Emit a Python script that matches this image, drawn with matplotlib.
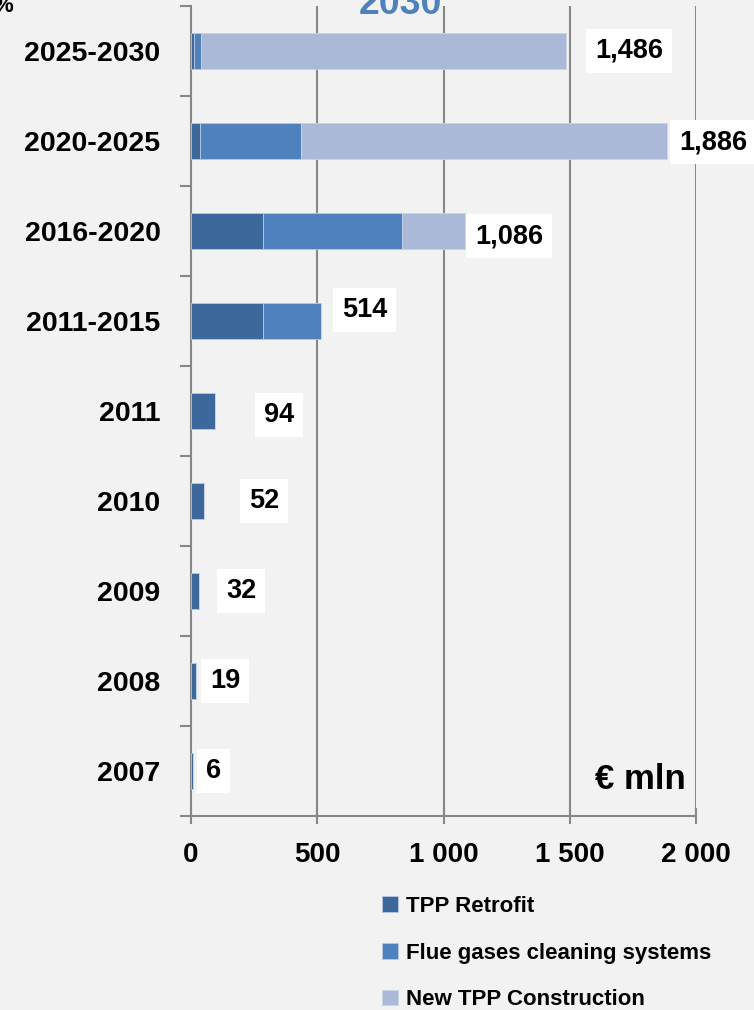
import numpy as np
import matplotlib.pyplot as plt
from matplotlib.ticker import FixedLocator

# data, bottom to top
periods = ['2007', '2008', '2009', '2010', '2011',
           '2011-2015', '2016-2020', '2020-2025', '2025-2030']
retrofit = [6, 19, 32, 52, 94, 285, 285, 35, 10]
flue = [0, 0, 0, 0, 0, 229, 550, 400, 30]
new_tpp = [0, 0, 0, 0, 0, 0, 251, 1451, 1446]
xticks = [0, 500, 1000, 1500, 2000]
xtick_labels = ['0', '500', '1 000', '1 500', '2 000']

# label box offsets (px) from bar end: gap, vertical shift (up +)
lab_dx = [4, 5, 18, 36, 40, 12, 1, 3, 20]
lab_dy = [0, 0, 0, 0, -4, 11, -5, -1, 0]

c_ret = '#3d689c'
c_flue = '#4f81bd'
c_new = '#aab9d7'
bg = '#f2f2f2'
gray = '#878787'
fnt = ['Liberation Sans', 'DejaVu Sans']
plt.rcParams['font.family'] = fnt

fig = plt.figure(figsize=(7.54, 10.10), dpi=100, facecolor=bg)
ax = fig.add_axes([191/754, 1-816/1010, 505/754, 810/1010])
ax.set_facecolor(bg)

y = np.arange(len(periods))
ret = np.array(retrofit)
fl = np.array(flue)
nw = np.array(new_tpp)
h = 0.4
ax.barh(y, ret, height=h, color=c_ret, edgecolor='#b9c8e0', linewidth=0.6, label='TPP Retrofit', zorder=3)
ax.barh(y, fl, left=ret, height=h, color=c_flue, edgecolor='#b9c8e0', linewidth=0.6,
        label='Flue gases cleaning systems', zorder=3)
ax.barh(y, nw, left=ret+fl, height=h, color=c_new, edgecolor='#c9d4e6', linewidth=0.6,
        label='New TPP Construction', zorder=3)

tot = ret + fl + nw
for i, t in enumerate(tot):
    ax.annotate(f'{t:,}', (t, y[i]), xytext=((lab_dx[i]+9)*0.72, lab_dy[i]*0.72),
                textcoords='offset points', ha='left', va='center',
                fontsize=19.5, fontweight='bold', color='black', zorder=5,
                bbox=dict(boxstyle='square,pad=0.33', fc='white', ec='none'))

ax.set_xlim(0, 2000)
ax.set_ylim(-0.5, len(periods)-0.5)
ax.set_xticks(xticks)
ax.set_xticklabels(xtick_labels, fontsize=20, fontweight='bold')
ax.set_yticks(y)
ax.set_yticklabels(periods, fontsize=20.5, fontweight='bold')
ax.yaxis.set_minor_locator(FixedLocator(np.arange(-0.5, len(periods), 1.0)))
ax.tick_params(axis='y', which='major', length=0, pad=22)
ax.tick_params(axis='y', which='minor', length=8, width=1.5, color=gray, direction='out')
ax.tick_params(axis='x', length=12, width=1.5, color=gray, direction='inout', pad=13)
for xv in xticks[1:]:
    ax.axvline(xv, color=gray, lw=1.5, zorder=1)
for s in ['top', 'right']:
    ax.spines[s].set_visible(False)
for s in ['left', 'bottom']:
    ax.spines[s].set_color(gray)
    ax.spines[s].set_linewidth(1.5)

ax.text(0.98, 0.045, '€ mln', transform=ax.transAxes, ha='right', va='center',
        fontsize=25, fontweight='bold')

fig.text(400/754, 1-14/1010, '2030', ha='center', va='baseline', fontsize=27,
         fontweight='bold', color=c_flue)
fig.text(-0.008, 1-12/1010, '%', ha='left', va='baseline', fontsize=16, fontweight='bold')

fig.legend(loc='upper left', bbox_to_anchor=(362/754, 1-876/1010), frameon=False,
           prop={'weight': 'bold', 'size': 16},
           handlelength=0.7, handleheight=0.7, handletextpad=0.4, labelspacing=1.15)

fig.savefig('out.png', dpi=100, facecolor=bg)
